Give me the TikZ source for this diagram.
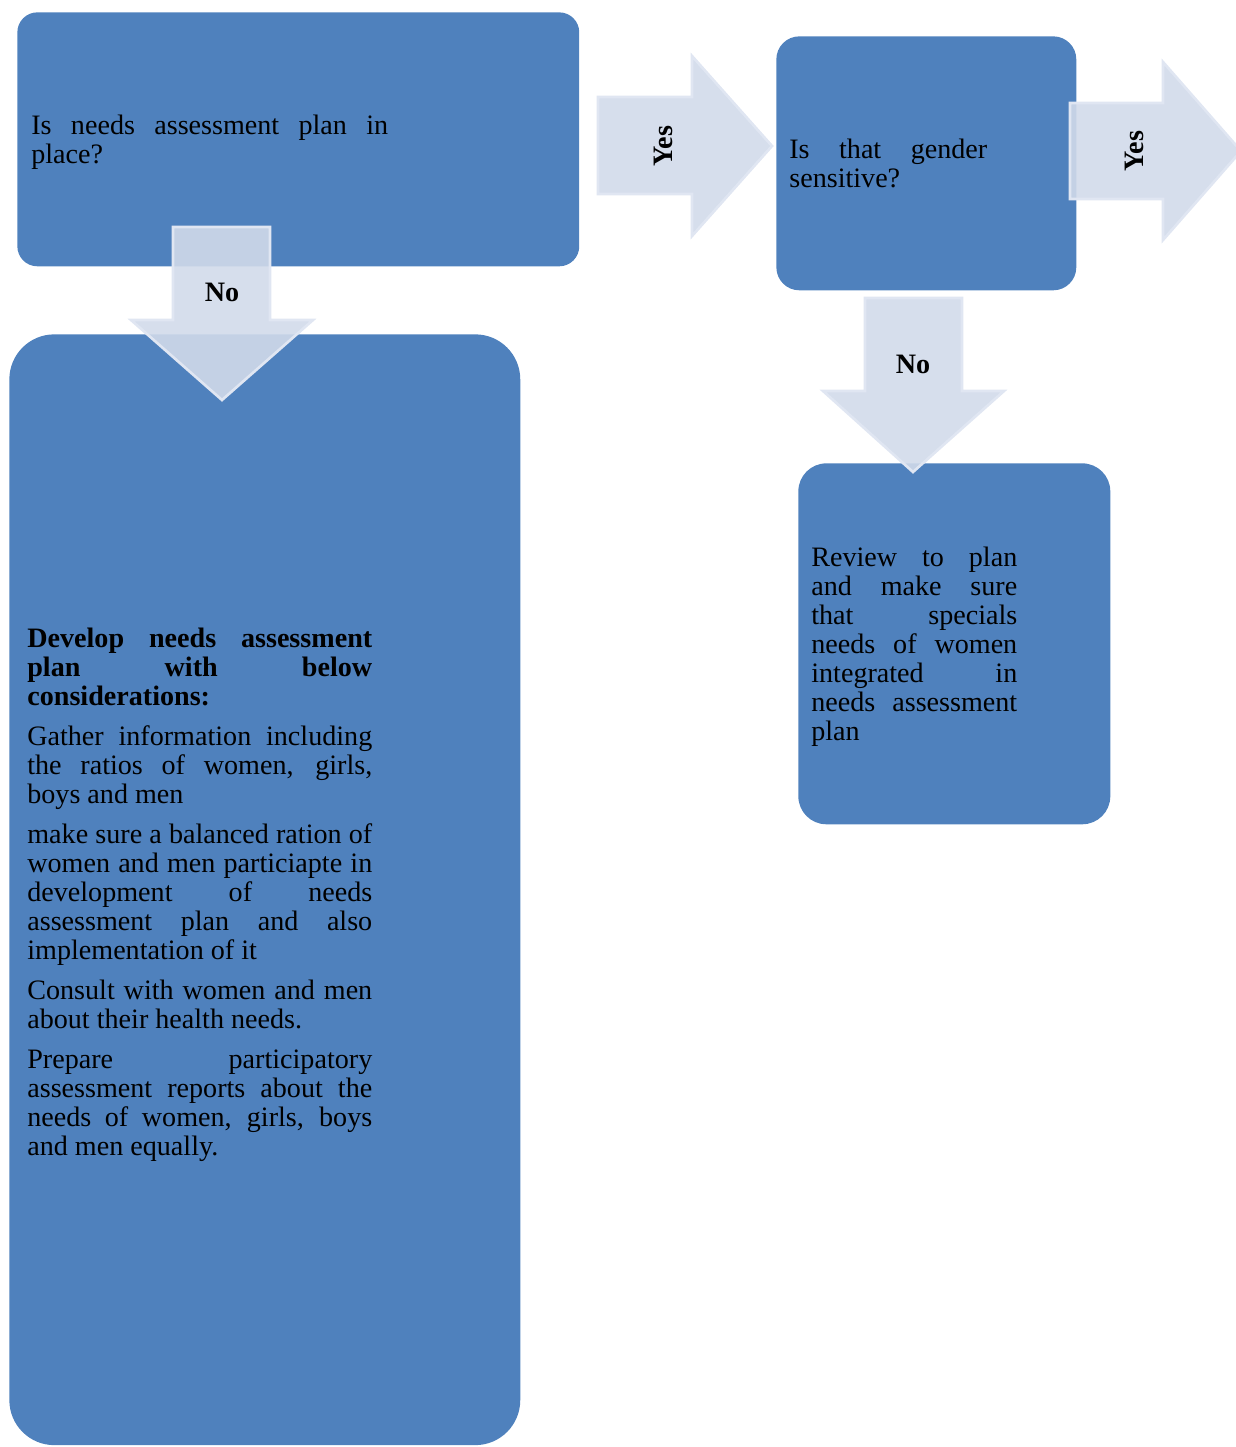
\documentclass[tikz,border=0pt]{standalone}
\usepackage{fontspec}
\setmainfont{Liberation Serif}
\definecolor{main}{RGB}{79,129,189}
\definecolor{arrowfill}{RGB}{209,218,234}
\definecolor{arrowline}{RGB}{224,230,242}
\usetikzlibrary{positioning}
\tikzset{
  % box
	cstbox/.style   ={fill=main,draw=none,inner sep=0pt,anchor=north west},
  % text
	csttext/.style  ={inner sep=0pt,align=justify,anchor=west,
		font=\fontsize{16}{16.5}\selectfont,
		execute at begin node={\setlength{\parindent}{0pt}\setlength{\parskip}{0.22cm}}},
  % block arrow
	cstarrow/.style ={fill=arrowfill,fill opacity=0.9,draw=arrowline,line width=1.5pt,line join=miter},
	cstlabel/.style ={inner sep=0pt,font=\fontsize{16}{16.5}\selectfont\bfseries}
}

\begin{document}
\begin{tikzpicture}[x=0.02cm,y=-0.02cm]
	\useasboundingbox (0,0) rectangle (1236,1447);
	% boxes
	\node[cstbox,rounded corners=0.4cm,minimum width=11.24cm,minimum height=5.08cm] (askplan) at (17,12) {};
	\node[cstbox,rounded corners=0.9cm,minimum width=10.22cm,minimum height=22.22cm] (develop) at (9,334) {};
	\node[cstbox,rounded corners=0.46cm,minimum width=6cm,minimum height=5.08cm] (askgender) at (776,36) {};
	\node[cstbox,rounded corners=0.56cm,minimum width=6.24cm,minimum height=7.22cm] (review) at (798,463) {};
	% texts
	\node[csttext,text width=7.14cm,right=0.28cm of askplan.west,yshift=-0.06cm] (askplantxt)
		{Is needs assessment plan in\linebreak place?};
	\node[csttext,text width=6.9cm,right=0.36cm of develop.west,yshift=-0.1cm] (developtxt)
		{\textbf{Develop needs assessment\linebreak plan with below\linebreak considerations:}\par
		Gather information including\linebreak the ratios of women, girls,\linebreak boys and men\par
		make sure a balanced ration of\linebreak women and men particiapte in\linebreak development of needs\linebreak assessment plan and also\linebreak implementation of it\par
		Consult with women and men\linebreak about their health needs.\par
		Prepare participatory\linebreak assessment reports about the\linebreak needs of women, girls, boys\linebreak and men equally.};
	\node[csttext,text width=3.96cm,right=0.26cm of askgender.west] (askgendertxt)
		{Is that gender\linebreak sensitive?};
	\node[csttext,text width=4.12cm,right=0.26cm of review.west,yshift=-0.06cm] (reviewtxt)
		{Review to plan\linebreak and make sure\linebreak that specials\linebreak needs of women\linebreak integrated in\linebreak needs assessment\linebreak plan};
	% arrows
	\draw[cstarrow] (598,97)--(692,97)--(692,56)--(772,146)--(692,236)--(692,194)--(598,194)--cycle;
	\draw[cstarrow] (1070,103)--(1163,103)--(1163,62)--(1241,151)--(1163,240)--(1163,199)--(1070,199)--cycle;
	\draw[cstarrow] (173,227)--(270,227)--(270,320)--(313,320)--(222,400)--(131,320)--(173,320)--cycle;
	\draw[cstarrow] (865,298)--(962,298)--(962,391)--(1004,391)--(913,472)--(823,391)--(865,391)--cycle;
	% labels
	\node[cstlabel,rotate=90] (yes1) at (663,146) {Yes};
	\node[cstlabel,rotate=90] (yes2) at (1134,151) {Yes};
	\node[cstlabel] (no1) at (222,292) {No};
	\node[cstlabel] (no2) at (913,364) {No};
\end{tikzpicture}
\end{document}
